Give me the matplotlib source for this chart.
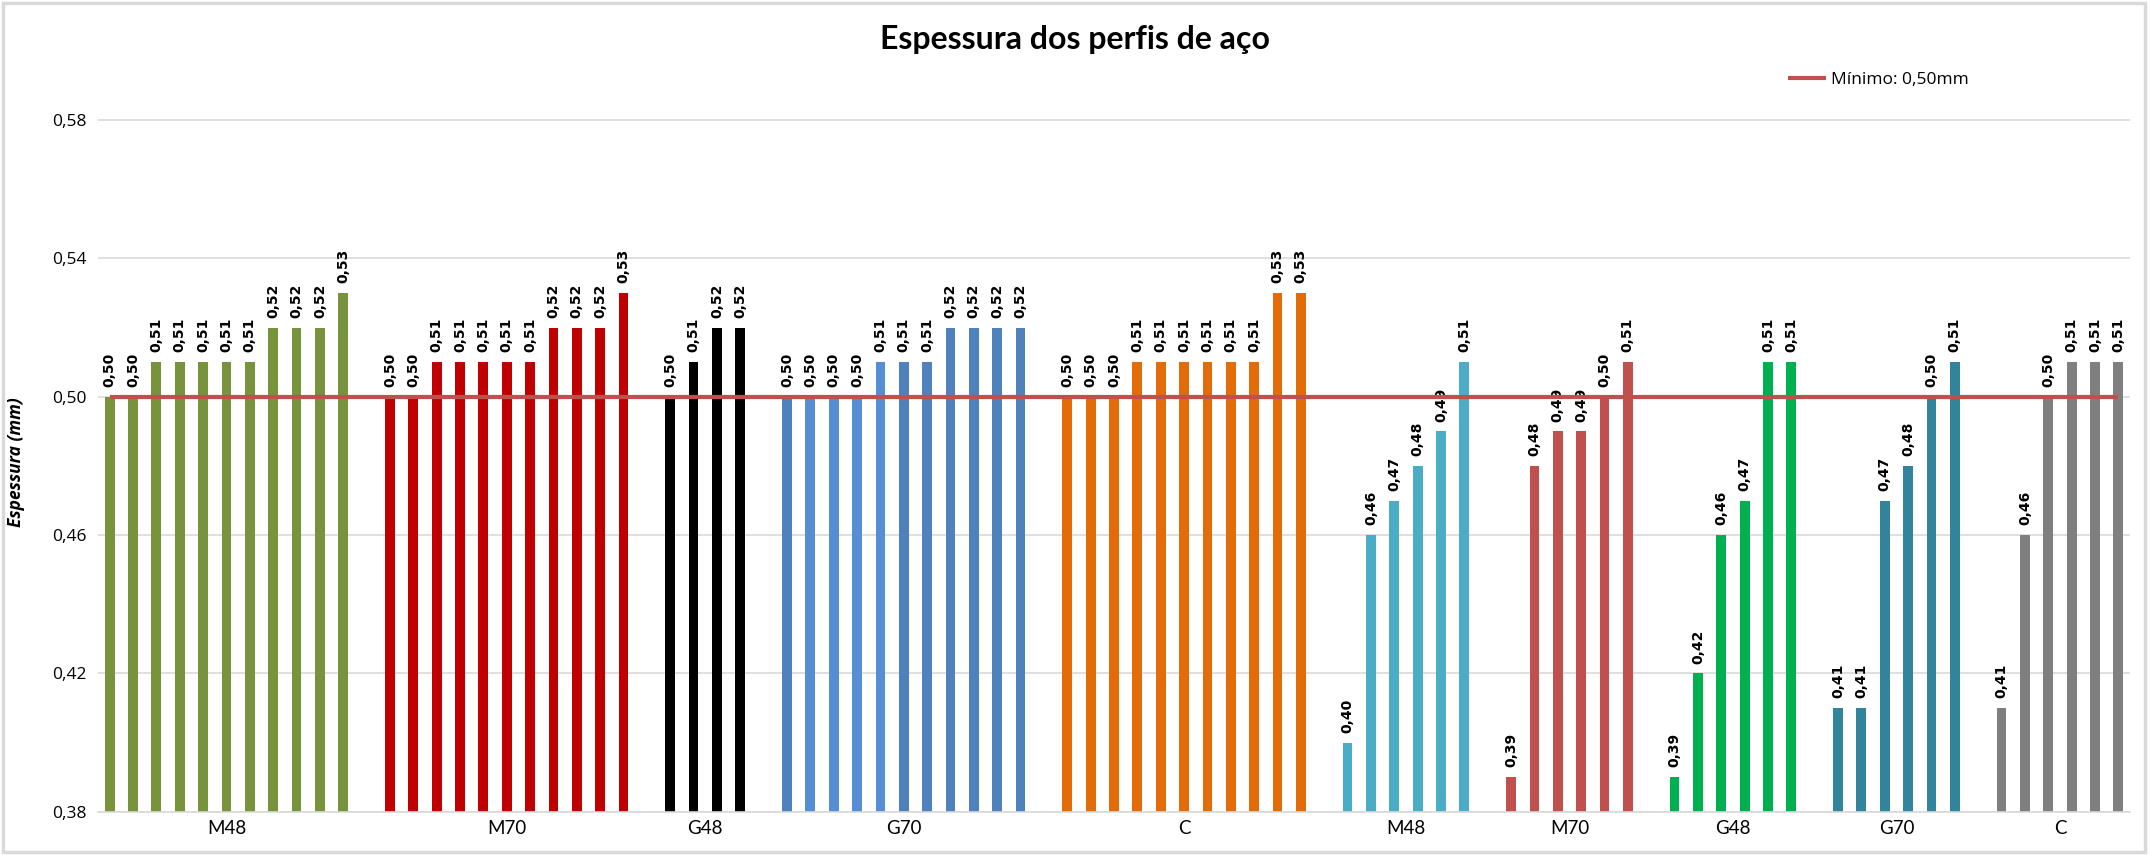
import matplotlib
matplotlib.use('Agg')
import matplotlib.pyplot as plt
from matplotlib.patches import Rectangle

# groups of measured thickness (mm), in drawing order
group_labels = ['M48', 'M70', 'G48', 'G70', 'C', 'M48', 'M70', 'G48', 'G70', 'C']

m48_a = [0.50, 0.50, 0.51, 0.51, 0.51, 0.51, 0.51, 0.52, 0.52, 0.52, 0.53]
m70_a = [0.50, 0.50, 0.51, 0.51, 0.51, 0.51, 0.51, 0.52, 0.52, 0.52, 0.53]
g48_a = [0.50, 0.51, 0.52, 0.52]
g70_a = [0.50, 0.50, 0.50, 0.50, 0.51, 0.51, 0.51, 0.52, 0.52, 0.52, 0.52]
c_a = [0.50, 0.50, 0.50, 0.51, 0.51, 0.51, 0.51, 0.51, 0.51, 0.53, 0.53]
m48_b = [0.40, 0.46, 0.47, 0.48, 0.49, 0.51]
m70_b = [0.39, 0.48, 0.49, 0.49, 0.50, 0.51]
g48_b = [0.39, 0.42, 0.46, 0.47, 0.51, 0.51]
g70_b = [0.41, 0.41, 0.47, 0.48, 0.50, 0.51]
c_b = [0.41, 0.46, 0.50, 0.51, 0.51, 0.51]

groups = [m48_a, m70_a, g48_a, g70_a, c_a, m48_b, m70_b, g48_b, g70_b, c_b]

g70_colors = ['#4F81BD'] + ['#558ED5'] * 4 + ['#4F81BD'] * 6
group_colors = ['#77933C', '#C00000', '#000000', g70_colors, '#E36C09',
                '#4BACC6', '#C0504D', '#00B050', '#31849B', '#7F7F7F']

minimum = 0.50
y_ticks = [0.38, 0.42, 0.46, 0.50, 0.54, 0.58]

fig = plt.figure(figsize=(21.5, 8.55), dpi=100)
ax = fig.add_axes([98 / 2150, 1 - 811.7 / 855, (2130 - 98) / 2150, (811.7 - 51) / 855])

pos = 0
all_x = []
centers = []
for vals, col in zip(groups, group_colors):
    xs = list(range(pos, pos + len(vals)))
    cols = col if isinstance(col, list) else [col] * len(vals)
    ax.bar(xs, [v - 0.38 for v in vals], bottom=0.38, width=0.42, color=cols, zorder=2)
    for x, v in zip(xs, vals):
        ax.annotate(f'{v:.2f}'.replace('.', ','), (x, v), xytext=(0, 7),
                    textcoords='offset points', rotation=90, ha='center', va='bottom',
                    fontsize=10, fontweight='bold', family='DejaVu Sans')
    centers.append((xs[0] + xs[-1]) / 2)
    all_x += xs
    pos += len(vals) + 1  # one empty slot between groups

ax.plot([all_x[0], all_x[-1]], [minimum, minimum], color='#C0504D', lw=3,
        zorder=3, label='Mínimo: 0,50mm', solid_capstyle='butt')

ax.set_xlim(-0.5, all_x[-1] + 0.5)
ax.set_ylim(0.38, 0.60)
ax.set_yticks(y_ticks)
ax.set_yticklabels([f'{t:.2f}'.replace('.', ',') for t in y_ticks], fontsize=12.5, family='Open Sans')
ax.set_xticks(centers)
ax.set_xticklabels(group_labels, fontsize=13.5, family='Lato')
ax.tick_params(axis='both', length=0)
ax.tick_params(axis='x', pad=6)
ax.tick_params(axis='y', pad=8)
ax.grid(axis='y', color='#D9D9D9', lw=1.2, zorder=0)
for s in ['top', 'right', 'left']:
    ax.spines[s].set_visible(False)
ax.spines['bottom'].set_color('#D9D9D9')
ax.spines['bottom'].set_linewidth(1.2)

ax.set_ylabel('Espessura (mm)', fontsize=12.5, fontweight='bold', style='italic', family='Open Sans')
ax.yaxis.set_label_coords(-0.036, 0.46)

fig.text(0.5, 1 - 40 / 855, 'Espessura dos perfis de aço', ha='center', va='center',
         fontsize=23, fontweight='bold', family='Lato')

fig.legend(loc='center left', bbox_to_anchor=(1772 / 2150, 1 - 80 / 855), frameon=False,
           prop={'family': 'Open Sans', 'size': 12.5}, handlelength=2.2, handletextpad=0.3)

fig.patches.append(Rectangle((0.0015, 0.003), 0.996, 0.994, transform=fig.transFigure,
                             fill=False, edgecolor='#D9D9D9', lw=2.5))

fig.savefig('out.png', dpi=100, facecolor='white')
